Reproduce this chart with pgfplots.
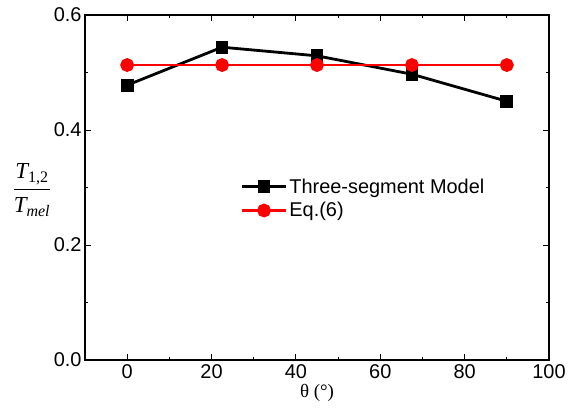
\documentclass[border=0pt]{standalone}
\usepackage{pgfplots}
\pgfplotsset{compat=1.18}
\usepackage{amsmath}
\usepackage{fontspec}
\setmainfont{Liberation Sans}
\newfontfamily\timesf{Liberation Serif}
\begin{document}
\begin{tikzpicture}[x=1bp,y=1bp]
\useasboundingbox (0,0) rectangle (568,408);
\begin{axis}[
  at={(85bp,48bp)}, anchor=south west,
  scale only axis, width=464bp, height=345bp,
  xmin=-10, xmax=100, ymin=0, ymax=0.6,
  xtick={0,20,...,100}, ytick={0,0.2,0.4,0.6},
  minor x tick num=1, minor y tick num=1,
  tick align=inside, major tick length=6bp, minor tick length=3bp,
  tick style={black, line width=0.9bp},
  axis line style={line width=1.3bp},
  /pgf/number format/assume math mode=true,
  yticklabel style={/pgf/number format/.cd, fixed, fixed zerofill, precision=1},
  ticklabel style={font=\fontsize{20}{22}\selectfont},
  xticklabel style={yshift=-1bp},
  xlabel={\timesf θ (°)},
  xlabel style={font=\fontsize{19}{21}\selectfont,
    at={(axis description cs:0.5,-0.096)}, anchor=center},
  legend style={at={(0.335,0.468)}, anchor=west, draw=none, fill=none,
    font=\fontsize{20}{22}\selectfont, row sep=4bp, inner sep=0pt},
  legend cell align=left,
  legend image code/.code={
    \draw[mark repeat=2,mark phase=2] plot coordinates {(0bp,0bp) (22bp,0bp) (44bp,0bp)};},
]
\addplot[black, line width=2.8bp, mark=square*, mark size=5bp]
  coordinates {(0,0.478) (22.5,0.544) (45,0.529) (67.5,0.497) (90,0.450)};
\addlegendentry{Three-segment Model}
\addplot[red, line width=2.8bp, mark=*, mark size=5.5bp]
  coordinates {(0,0.513) (22.5,0.513) (45,0.513) (67.5,0.513) (90,0.513)};
\addlegendentry{Eq.(6)}
\end{axis}
\node[font=\timesf\fontsize{23}{25}\selectfont] at (32,218)
  {$\dfrac{\textit{T}_{\textup{1,2}}}{\textit{T}_{\textit{mel}}}$};
\end{tikzpicture}
\end{document}
